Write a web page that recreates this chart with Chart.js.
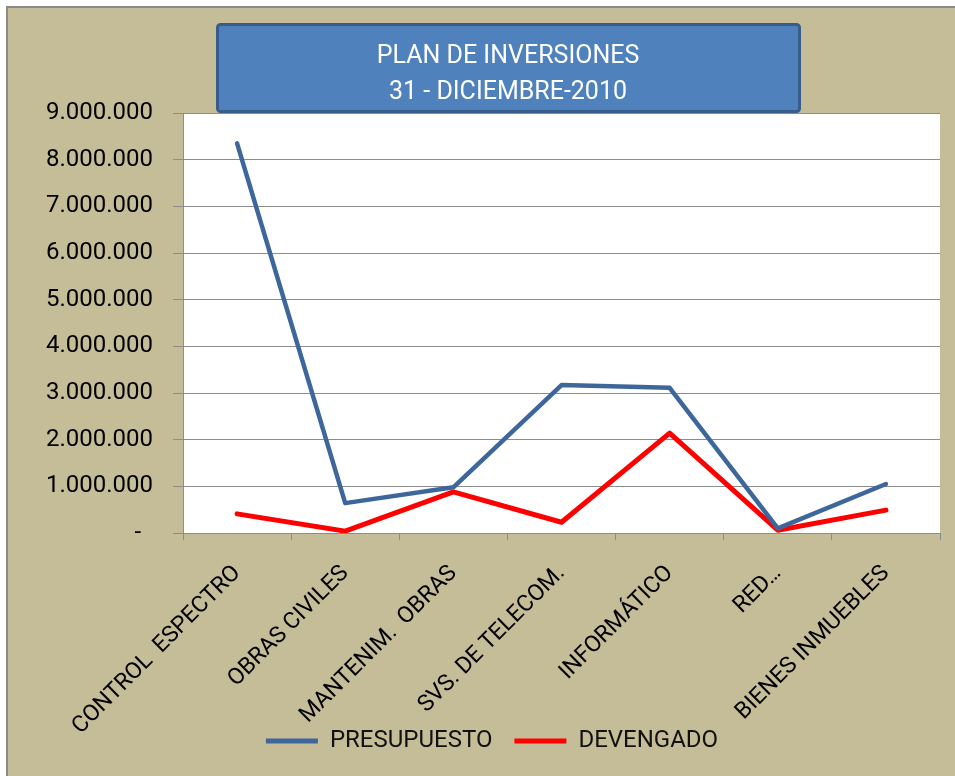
<!DOCTYPE html>
<html>
<head>
<meta charset="utf-8">
<script src="https://cdn.jsdelivr.net/npm/chart.js@4.4.1/dist/chart.umd.min.js"></script>
<style>
  body { margin: 0; background: #fff; }
  #wrap { width: 955px; height: 776px; }
</style>
</head>
<body>
<div id="wrap"><canvas id="chart" width="955" height="776"></canvas></div>
<script>
const categories = ["CONTROL  ESPECTRO", "OBRAS CIVILES", "MANTENIM.  OBRAS", "SVS. DE TELECOM.", "INFORMÁTICO", "RED…", "BIENES INMUEBLES"];
const presupuesto = [8350000, 640000, 980000, 3170000, 3110000, 100000, 1050000];
const devengado = [410000, 40000, 880000, 230000, 2140000, 60000, 490000];
const yTickLabels = ["-  ", "1.000.000", "2.000.000", "3.000.000", "4.000.000", "5.000.000", "6.000.000", "7.000.000", "8.000.000", "9.000.000"];
const titleLines = ["PLAN DE INVERSIONES", "31 - DICIEMBRE-2010"];

const FONT = "Roboto, 'Liberation Sans', sans-serif";
const GRAY = "#8c8c8c";

// background, plot area and title box
const frame = {
  id: "frame",
  afterLayout(chart) {
    // let the rotated labels run down behind the legend, as in the original
    const x = chart.scales.x;
    x.bottom = chart.height;
    x.height = x.bottom - x.top;
  },
  beforeDraw(chart) {
    const { ctx, chartArea: a } = chart;
    ctx.save();
    ctx.fillStyle = "#fff";
    ctx.fillRect(0, 0, chart.width, chart.height);
    ctx.fillStyle = "#c4bd97";
    ctx.fillRect(7, 7, chart.width, chart.height);
    ctx.strokeStyle = "#8a8a8a";
    ctx.lineWidth = 2;
    ctx.strokeRect(7, 7, chart.width + 10, chart.height + 10);
    ctx.fillStyle = "#fff";
    ctx.fillRect(a.left, a.top, a.right - a.left, a.bottom - a.top);

    // title box
    ctx.fillStyle = "#4f81bd";
    ctx.strokeStyle = "#385d8a";
    ctx.lineWidth = 3;
    ctx.beginPath();
    ctx.roundRect(217.5, 24.5, 582, 87, 3);
    ctx.fill();
    ctx.stroke();
    ctx.fillStyle = "#fff";
    ctx.font = "25px " + FONT;
    ctx.textAlign = "center";
    ctx.textBaseline = "alphabetic";
    ctx.fillText(titleLines[0], 508, 63);
    ctx.fillText(titleLines[1], 508, 99);
    ctx.restore();
  }
};

new Chart(document.getElementById("chart"), {
  type: "line",
  data: {
    labels: categories,
    datasets: [
      {
        label: "PRESUPUESTO",
        data: presupuesto,
        borderColor: "#3d679b",
        backgroundColor: "#3d679b",
        borderWidth: 4.5,
        pointRadius: 0,
        tension: 0,
        borderCapStyle: "round",
        borderJoinStyle: "round"
      },
      {
        label: "DEVENGADO",
        data: devengado,
        borderColor: "#ff0000",
        backgroundColor: "#ff0000",
        borderWidth: 5,
        pointRadius: 0,
        tension: 0,
        borderCapStyle: "round",
        borderJoinStyle: "round"
      }
    ]
  },
  options: {
    responsive: false,
    animation: false,
    layout: { padding: { top: 113, left: 44, right: 15, bottom: 13 } },
    plugins: {
      title: { display: false },
      tooltip: { enabled: false },
      legend: {
        position: "bottom",
        labels: {
          color: "#111",
          font: { family: FONT, size: 24 },
          boxWidth: 52,
          boxHeight: 5,
          padding: 22,
          generateLabels(chart) {
            return Chart.defaults.plugins.legend.labels.generateLabels(chart).map(item => {
              item.lineWidth = 0;
              return item;
            });
          }
        }
      }
    },
    scales: {
      x: {
        offset: true,
        grid: { offset: true, drawOnChartArea: false, color: GRAY, tickLength: 7 },
        border: { color: GRAY },
        ticks: {
          autoSkip: false,
          minRotation: 45,
          maxRotation: 45,
          padding: 20,
          color: "#000",
          font: { family: FONT, size: 23 }
        },
        afterFit(scale) { scale.height = 174; }
      },
      y: {
        min: 0,
        max: 9000000,
        ticks: {
          stepSize: 1000000,
          padding: 20,
          color: "#000",
          font: { family: FONT, size: 24 },
          callback: (value, index) => yTickLabels[index]
        },
        grid: { color: GRAY, tickLength: 10 },
        border: { color: GRAY },
        afterFit(scale) { scale.width = 139; }
      }
    }
  },
  plugins: [frame]
});
</script>
</body>
</html>
